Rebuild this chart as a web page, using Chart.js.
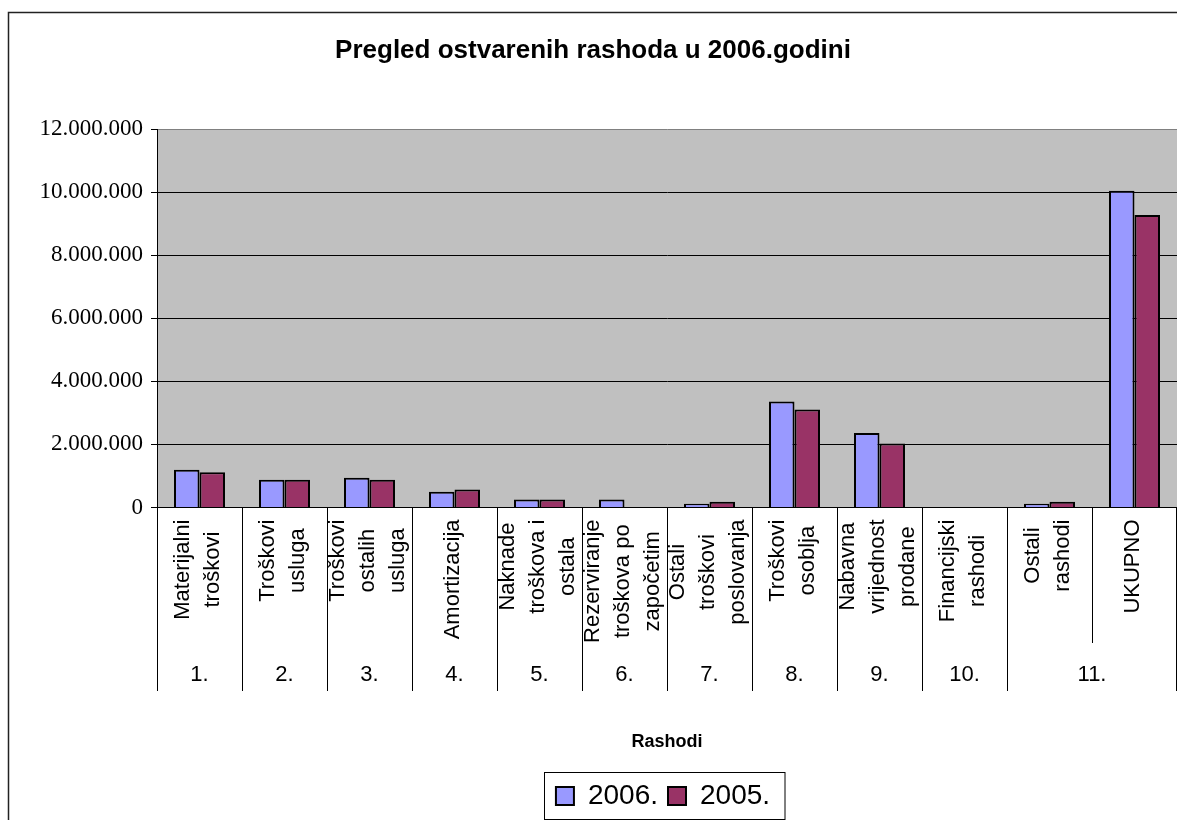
<!DOCTYPE html>
<html>
<head>
<meta charset="utf-8">
<title>Pregled ostvarenih rashoda u 2006.godini</title>
<script src="https://cdn.jsdelivr.net/npm/chart.js@4.4.1/dist/chart.umd.min.js"></script>
<style>
  html, body { margin: 0; padding: 0; background: #fff; }
  canvas { display: block; }
</style>
</head>
<body>
<canvas id="chart" width="1177" height="820"></canvas>
<script>
// Podaci (očitano s grafikona)
const categories = [
    ['Materijalni', 'troškovi'],
    ['Troškovi', 'usluga'],
    ['Troškovi', 'ostalih', 'usluga'],
    ['Amortizacija'],
    ['Naknade', 'troškova i', 'ostala'],
    ['Rezerviranje', 'troškova po', 'započetim'],
    ['Ostali', 'troškovi', 'poslovanja'],
    ['Troškovi', 'osoblja'],
    ['Nabavna', 'vrijednost', 'prodane'],
    ['Financijski', 'rashodi'],
    ['Ostali', 'rashodi'],
    ['UKUPNO']
];
const groupLabels = ['1.', '2.', '3.', '4.', '5.', '6.', '7.', '8.', '9.', '10.', '11.'];
const groupSizes = [1, 1, 1, 1, 1, 1, 1, 1, 1, 1, 2];
const seriesNames = ['2006.', '2005.'];
const values2006 = [1200000, 880000, 940000, 500000, 250000, 250000, 120000, 3360000, 2360000, 0, 120000, 10050000];
const values2005 = [1120000, 880000, 880000, 570000, 250000, 0, 180000, 3110000, 2030000, 0, 180000, 9280000];

const SANS = '"Liberation Sans", Arial, sans-serif';
const SERIF = '"Liberation Serif", "Times New Roman", serif';

// Format broja s točkom kao separatorom tisućica
function formatNumber(v) {
    return String(v).replace(/\B(?=(\d{3})+(?!\d))/g, '.');
}

// Pozadina, okvir i siva podloga grafa
const backgroundPlugin = {
    id: 'background',
    beforeDraw(chart) {
        const {ctx, chartArea} = chart;
        ctx.save();
        ctx.fillStyle = '#ffffff';
        ctx.fillRect(0, 0, chart.width, chart.height);
        ctx.strokeStyle = '#222';
        ctx.lineWidth = 1.5;
        ctx.strokeRect(8.5, 12.5, chart.width + 20, chart.height + 20);
        ctx.fillStyle = '#c0c0c0';
        ctx.fillRect(chartArea.left, chartArea.top, chartArea.right - chartArea.left, chartArea.bottom - chartArea.top);
        ctx.restore();
    }
};

// Oznake kategorija (okomite, u više redova), grupe i razdjelnici
const categoryAxisPlugin = {
    id: 'categoryAxis',
    afterDraw(chart) {
        const {ctx, chartArea} = chart;
        const x = chart.scales.x;
        const axisY = chartArea.bottom;
        const lineGap = 30;

        ctx.save();
        ctx.fillStyle = '#000';
        ctx.font = '22px ' + SANS;
        ctx.textAlign = 'center';
        ctx.textBaseline = 'middle';
        categories.forEach((lines, i) => {
            const cx = x.getPixelForValue(i);
            const maxW = Math.max(...lines.map(l => ctx.measureText(l).width));
            const midY = axisY + 12 + maxW / 2;
            lines.forEach((line, j) => {
                const dx = (j - (lines.length - 1) / 2) * lineGap - 1.5;
                ctx.save();
                ctx.translate(cx + dx, midY);
                ctx.rotate(-Math.PI / 2);
                ctx.fillText(line, 0, 0);
                ctx.restore();
            });
        });

        // razdjelnici i oznake grupa
        const half = (x.getPixelForValue(1) - x.getPixelForValue(0)) / 2;
        ctx.strokeStyle = '#000';
        ctx.lineWidth = 1;
        let idx = 0;
        const edges = [];
        groupSizes.forEach((size, g) => {
            const left = x.getPixelForValue(idx) - half;
            const right = x.getPixelForValue(idx + size - 1) + half;
            for (let k = 1; k < size; k++) {
                const px = Math.round(x.getPixelForValue(idx + k) - half) + 0.5;
                ctx.beginPath();
                ctx.moveTo(px, axisY);
                ctx.lineTo(px, 643);
                ctx.stroke();
            }
            edges.push(left);
            if (g === groupSizes.length - 1) edges.push(Math.min(right, chart.width - 0.5));
            ctx.fillText(groupLabels[g], (left + right) / 2, 675);
            idx += size;
        });
        edges.forEach(e => {
            const px = Math.round(e - 0.5) + 0.5;
            ctx.beginPath();
            ctx.moveTo(px, axisY);
            ctx.lineTo(px, 691);
            ctx.stroke();
        });

        // okvir legende
        const boxes = chart.legend.legendHitBoxes;
        if (boxes && boxes.length) {
            const first = boxes[0];
            const last = boxes[boxes.length - 1];
            const bx = Math.round(first.left - 12) + 0.5;
            const by = Math.round(chart.legend.top) + 0.5;
            ctx.strokeStyle = '#000';
            ctx.strokeRect(bx, by, Math.round(last.left + last.width + 15) - bx, 47);
        }
        ctx.restore();
    }
};

// Legenda centrirana ispod područja grafa
const legendPositionPlugin = {
    id: 'legendPosition',
    afterLayout(chart) {
        chart.legend.left = chart.chartArea.left - 4;
        chart.legend.right = chart.chartArea.right - 4;
    }
};

const ctx = document.getElementById('chart').getContext('2d');
const chart = new Chart(ctx, {
    type: 'bar',
    data: {
        labels: categories.map(l => l.join(' ')),
        datasets: [
            {
                label: seriesNames[0],
                data: values2006,
                backgroundColor: '#9999ff',
                borderColor: '#000',
                borderWidth: 2,
                borderSkipped: 'start'
            },
            {
                label: seriesNames[1],
                data: values2005,
                backgroundColor: '#993366',
                borderColor: '#000',
                borderWidth: 2,
                borderSkipped: 'start'
            }
        ]
    },
    options: {
        responsive: false,
        animation: false,
        layout: {
            padding: {top: 0, left: 9, right: 0, bottom: 0}
        },
        datasets: {
            bar: {
                categoryPercentage: 0.6,
                barPercentage: 1.0
            }
        },
        scales: {
            x: {
                offset: true,
                grid: {display: false},
                border: {display: true, color: '#000', width: 1},
                ticks: {display: false},
                title: {
                    display: true,
                    text: 'Rashodi',
                    color: '#000',
                    font: {family: SANS, size: 18, weight: 'bold'},
                    padding: {top: 0, bottom: 19}
                },
                afterFit(scale) {
                    scale.height = 264.5;
                }
            },
            y: {
                min: 0,
                max: 12000000,
                border: {display: true, color: '#000', width: 1},
                grid: {
                    color: c => (c.tick && c.tick.value === 12000000 ? '#808080' : '#000'),
                    lineWidth: 1,
                    drawTicks: true,
                    tickLength: 6,
                    tickColor: '#000'
                },
                ticks: {
                    stepSize: 2000000,
                    padding: 8,
                    color: '#000',
                    font: {family: SERIF, size: 23},
                    callback: v => formatNumber(v)
                },
                afterFit(scale) {
                    scale.width = 148;
                }
            }
        },
        plugins: {
            title: {
                display: true,
                text: 'Pregled ostvarenih rashoda u 2006.godini',
                color: '#000',
                font: {family: SANS, size: 26, weight: 'bold', lineHeight: 1.2},
                padding: {top: 35, bottom: 63}
            },
            legend: {
                position: 'bottom',
                labels: {
                    color: '#000',
                    boxWidth: 18,
                    boxHeight: 18,
                    padding: 10,
                    font: {family: SANS, size: 28}
                }
            },
            tooltip: {enabled: false}
        }
    },
    plugins: [backgroundPlugin, legendPositionPlugin, categoryAxisPlugin]
});
</script>
</body>
</html>
